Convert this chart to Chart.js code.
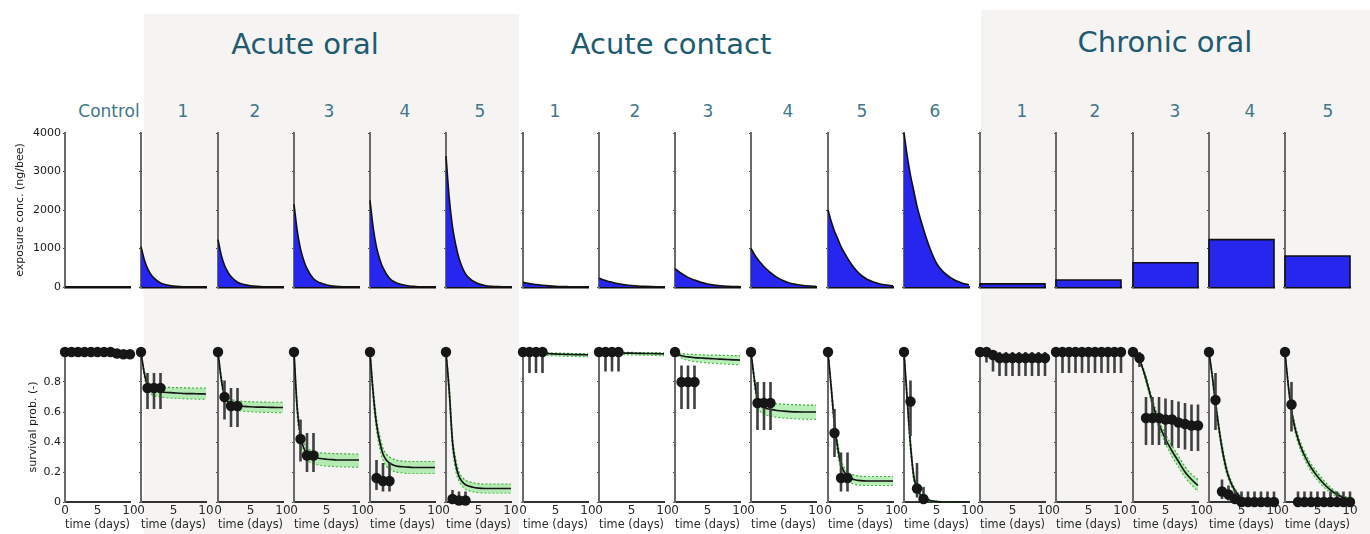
<!DOCTYPE html>
<html><head><meta charset="utf-8">
<script src="https://cdn.jsdelivr.net/npm/chart.js@4/dist/chart.umd.min.js"></script>
<style>
html,body{margin:0;padding:0;background:#fff;width:1370px;height:534px;overflow:hidden;position:relative;font-family:'DejaVu Sans',sans-serif}
.bg{position:absolute;background:#f5f4f2}
.grp{position:absolute;font-size:29px;line-height:1;color:#1f5b70;transform:translate(-50%,-50%);white-space:nowrap}
.lab{position:absolute;font-size:17px;line-height:1;color:#437688;transform:translate(-50%,-50%);white-space:nowrap}
canvas{position:absolute}
</style></head><body>
<div class="bg" style="left:144px;top:14px;width:375px;height:520px"></div>
<div class="bg" style="left:981px;top:10px;width:389px;height:524px"></div>
<script>
// ---------- DATA ----------
const groupTitles = ['Acute oral', 'Acute contact', 'Chronic oral'];
const panelLabels = ['Control','1','2','3','4','5','1','2','3','4','5','6','1','2','3','4','5'];

// exposure (top row)
const concTime = [0, 0.5, 1, 1.5, 2, 3, 4, 5, 6, 7, 8, 9, 10];
const exposureDays = [0, 10];
const concControl = [0, 0, 0, 0, 0, 0, 0, 0, 0, 0, 0, 0, 0];
const concOral1 = [1050, 715, 485, 335, 230, 105, 52, 26, 13, 6, 3, 2, 0];
const concOral2 = [1230, 835, 565, 395, 270, 123, 62, 31, 15, 7, 4, 2, 0];
const concOral3 = [2150, 1460, 990, 690, 475, 215, 108, 54, 26, 13, 6, 3, 0];
const concOral4 = [2250, 1530, 1035, 720, 495, 225, 113, 56, 27, 14, 7, 3, 0];
const concOral5 = [3400, 2310, 1565, 1090, 750, 340, 170, 85, 41, 20, 10, 5, 0];
const concContact1 = [120, 102, 87, 75, 63, 45, 30, 19, 12, 8, 5, 3, 2];
const concContact2 = [230, 196, 167, 144, 121, 86, 58, 37, 23, 15, 9, 6, 4];
const concContact3 = [480, 410, 350, 300, 250, 180, 120, 77, 48, 31, 19, 12, 7];
const concContact4 = [1000, 850, 725, 625, 525, 375, 250, 160, 100, 65, 40, 25, 15];
const concContact5 = [2000, 1700, 1450, 1250, 1050, 750, 500, 320, 200, 130, 80, 50, 30];
const concContact6 = [4000, 3400, 2900, 2500, 2100, 1500, 1000, 620, 400, 260, 160, 100, 60];
const chronicConc = [80, 180, 630, 1230, 805];
const concTicks = [0, 1000, 2000, 3000, 4000];

// survival (bottom row)
const obsTimeAcute = [0, 1, 2, 3];
const obsTimeLong = [0, 1, 2, 3, 4, 5, 6, 7, 8, 9, 10];
const modelTime = [0, 0.5, 1, 1.5, 2, 2.5, 3, 4, 5, 6, 7, 8, 9, 10];
const timeTicks = [0, 5, 10];

const survControl = [1, 1, 1, 1, 1, 1, 1, 1, 0.99, 0.985, 0.985];
const modelControl = [1, 1, 1, 1, 1, 1, 1, 0.999, 0.998, 0.996, 0.994, 0.992, 0.99, 0.988];

const survOral1 = [1, 0.76, 0.76, 0.76];
const errLoOral1 = [1, 0.62, 0.62, 0.62];
const errHiOral1 = [1, 0.86, 0.86, 0.86];
const modelOral1 = [1, 0.86, 0.78, 0.755, 0.745, 0.74, 0.735, 0.73, 0.728, 0.725, 0.723, 0.722, 0.721, 0.72];
const bandLoOral1 = [1, 0.84, 0.75, 0.72, 0.71, 0.705, 0.70, 0.695, 0.692, 0.69, 0.688, 0.687, 0.686, 0.685];
const bandHiOral1 = [1, 0.88, 0.81, 0.785, 0.775, 0.77, 0.768, 0.765, 0.763, 0.762, 0.761, 0.76, 0.76, 0.76];

const survOral2 = [1, 0.70, 0.64, 0.64];
const errLoOral2 = [1, 0.55, 0.50, 0.50];
const errHiOral2 = [1, 0.81, 0.76, 0.76];
const modelOral2 = [1, 0.82, 0.71, 0.67, 0.655, 0.648, 0.643, 0.638, 0.635, 0.633, 0.632, 0.631, 0.63, 0.63];
const bandLoOral2 = [1, 0.80, 0.68, 0.64, 0.625, 0.615, 0.61, 0.605, 0.602, 0.60, 0.598, 0.597, 0.596, 0.595];
const bandHiOral2 = [1, 0.84, 0.74, 0.70, 0.685, 0.678, 0.674, 0.67, 0.668, 0.667, 0.666, 0.665, 0.665, 0.665];

const survOral3 = [1, 0.42, 0.31, 0.31];
const errLoOral3 = [1, 0.27, 0.20, 0.20];
const errHiOral3 = [1, 0.55, 0.46, 0.46];
const modelOral3 = [1, 0.62, 0.44, 0.36, 0.325, 0.31, 0.30, 0.29, 0.285, 0.282, 0.28, 0.28, 0.28, 0.28];
const bandLoOral3 = [1, 0.58, 0.40, 0.32, 0.28, 0.265, 0.255, 0.245, 0.24, 0.237, 0.235, 0.234, 0.233, 0.232];
const bandHiOral3 = [1, 0.66, 0.48, 0.40, 0.36, 0.345, 0.335, 0.328, 0.325, 0.323, 0.322, 0.321, 0.32, 0.32];

const survOral4 = [1, 0.16, 0.14, 0.14];
const errLoOral4 = [1, 0.08, 0.07, 0.07];
const errHiOral4 = [1, 0.28, 0.26, 0.26];
const modelOral4 = [1, 0.72, 0.52, 0.40, 0.32, 0.28, 0.26, 0.24, 0.235, 0.232, 0.23, 0.23, 0.23, 0.23];
const bandLoOral4 = [1, 0.68, 0.48, 0.36, 0.28, 0.24, 0.22, 0.20, 0.195, 0.19, 0.19, 0.19, 0.19, 0.19];
const bandHiOral4 = [1, 0.76, 0.56, 0.44, 0.36, 0.32, 0.30, 0.28, 0.272, 0.27, 0.27, 0.27, 0.27, 0.27];

const survOral5 = [1, 0.02, 0.01, 0.01];
const errLoOral5 = [1, 0, 0, 0];
const errHiOral5 = [1, 0.08, 0.07, 0.07];
const modelOral5 = [1, 0.74, 0.40, 0.25, 0.17, 0.135, 0.115, 0.10, 0.092, 0.09, 0.09, 0.09, 0.09, 0.09];
const bandLoOral5 = [1, 0.70, 0.36, 0.21, 0.14, 0.105, 0.085, 0.07, 0.063, 0.06, 0.06, 0.06, 0.06, 0.06];
const bandHiOral5 = [1, 0.78, 0.44, 0.29, 0.20, 0.165, 0.145, 0.13, 0.122, 0.12, 0.12, 0.12, 0.12, 0.12];

const survContact1 = [1, 1, 1, 1];
const errLoContact1 = [1, 0.86, 0.86, 0.86];
const errHiContact1 = [1, 1, 1, 1];
const modelContact1 = [1, 0.998, 0.996, 0.994, 0.993, 0.992, 0.991, 0.989, 0.987, 0.985, 0.984, 0.983, 0.982, 0.981];
const bandLoContact1 = [1, 0.995, 0.99, 0.987, 0.985, 0.982, 0.98, 0.977, 0.975, 0.973, 0.971, 0.97, 0.969, 0.968];
const bandHiContact1 = [1, 1, 0.999, 0.998, 0.997, 0.996, 0.995, 0.994, 0.993, 0.992, 0.991, 0.99, 0.99, 0.99];

const survContact2 = [1, 1, 1, 1];
const errLoContact2 = [1, 0.87, 0.87, 0.87];
const errHiContact2 = [1, 1, 1, 1];
const modelContact2 = [1, 0.999, 0.998, 0.997, 0.996, 0.995, 0.994, 0.993, 0.992, 0.991, 0.99, 0.99, 0.989, 0.988];
const bandLoContact2 = [1, 0.996, 0.993, 0.99, 0.988, 0.986, 0.985, 0.983, 0.981, 0.98, 0.979, 0.978, 0.977, 0.976];
const bandHiContact2 = [1, 1, 1, 0.999, 0.999, 0.998, 0.998, 0.997, 0.997, 0.996, 0.996, 0.995, 0.995, 0.995];

const survContact3 = [1, 0.80, 0.80, 0.80];
const errLoContact3 = [1, 0.62, 0.62, 0.62];
const errHiContact3 = [1, 0.91, 0.91, 0.91];
const modelContact3 = [1, 0.985, 0.975, 0.97, 0.967, 0.965, 0.963, 0.96, 0.957, 0.955, 0.952, 0.95, 0.948, 0.946];
const bandLoContact3 = [1, 0.975, 0.96, 0.95, 0.945, 0.94, 0.937, 0.932, 0.928, 0.925, 0.922, 0.92, 0.917, 0.915];
const bandHiContact3 = [1, 0.995, 0.99, 0.987, 0.985, 0.984, 0.983, 0.981, 0.98, 0.979, 0.978, 0.977, 0.976, 0.975];

const survContact4 = [1, 0.66, 0.66, 0.66];
const errLoContact4 = [1, 0.48, 0.48, 0.48];
const errHiContact4 = [1, 0.80, 0.80, 0.80];
const modelContact4 = [1, 0.82, 0.68, 0.645, 0.63, 0.622, 0.617, 0.61, 0.606, 0.603, 0.601, 0.60, 0.60, 0.60];
const bandLoContact4 = [1, 0.79, 0.64, 0.60, 0.585, 0.577, 0.572, 0.565, 0.56, 0.557, 0.555, 0.553, 0.552, 0.551];
const bandHiContact4 = [1, 0.85, 0.72, 0.685, 0.672, 0.665, 0.66, 0.655, 0.652, 0.65, 0.648, 0.647, 0.646, 0.645];

const survContact5 = [1, 0.46, 0.16, 0.16];
const errLoContact5 = [1, 0.30, 0.07, 0.07];
const errHiContact5 = [1, 0.62, 0.33, 0.33];
const modelContact5 = [1, 0.76, 0.52, 0.36, 0.25, 0.20, 0.17, 0.15, 0.142, 0.14, 0.14, 0.14, 0.14, 0.14];
const bandLoContact5 = [1, 0.73, 0.48, 0.32, 0.22, 0.17, 0.14, 0.12, 0.112, 0.11, 0.11, 0.11, 0.11, 0.11];
const bandHiContact5 = [1, 0.79, 0.56, 0.40, 0.28, 0.23, 0.20, 0.18, 0.172, 0.17, 0.17, 0.17, 0.17, 0.17];

const survContact6 = [1, 0.67, 0.09, 0.02];
const errLoContact6 = [1, 0.44, 0.03, 0];
const errHiContact6 = [1, 0.81, 0.26, 0.10];
const modelContact6 = [1, 0.68, 0.38, 0.17, 0.09, 0.05, 0.03, 0.01, 0.003, 0, 0, 0, 0, 0];
const bandLoContact6 = [1, 0.64, 0.34, 0.14, 0.07, 0.035, 0.02, 0.005, 0, 0, 0, 0, 0, 0];
const bandHiContact6 = [1, 0.72, 0.42, 0.20, 0.11, 0.065, 0.04, 0.015, 0.006, 0.002, 0, 0, 0, 0];

const survChronic1 = [1, 1, 0.98, 0.96, 0.96, 0.96, 0.96, 0.96, 0.96, 0.96, 0.96];
const errLoChronic1 = [1, 0.93, 0.87, 0.84, 0.84, 0.84, 0.84, 0.84, 0.84, 0.84, 0.84];
const errHiChronic1 = [1, 1, 1, 1, 1, 1, 1, 1, 1, 1, 1];
const modelChronic1 = [1, 0.995, 0.985, 0.978, 0.972, 0.968, 0.965, 0.962, 0.96, 0.958, 0.957, 0.956, 0.955, 0.954];
const bandLoChronic1 = [1, 0.99, 0.975, 0.966, 0.959, 0.954, 0.95, 0.946, 0.943, 0.94, 0.938, 0.936, 0.935, 0.934];
const bandHiChronic1 = [1, 1, 0.995, 0.99, 0.985, 0.982, 0.98, 0.978, 0.977, 0.976, 0.975, 0.975, 0.974, 0.974];

const survChronic2 = [1, 1, 1, 1, 1, 1, 1, 1, 1, 1, 1];
const errLoChronic2 = [1, 0.86, 0.86, 0.86, 0.86, 0.86, 0.86, 0.86, 0.86, 0.86, 0.86];
const errHiChronic2 = [1, 1, 1, 1, 1, 1, 1, 1, 1, 1, 1];
const modelChronic2 = [1, 1, 1, 1, 0.999, 0.999, 0.999, 0.999, 0.998, 0.998, 0.998, 0.998, 0.998, 0.997];
const bandLoChronic2 = [1, 1, 0.999, 0.998, 0.997, 0.996, 0.995, 0.994, 0.993, 0.992, 0.991, 0.99, 0.99, 0.99];
const bandHiChronic2 = [1, 1, 1, 1, 1, 1, 1, 1, 1, 1, 1, 1, 1, 1];

const survChronic3 = [1, 0.96, 0.56, 0.56, 0.56, 0.55, 0.55, 0.53, 0.52, 0.51, 0.51];
const errLoChronic3 = [1, 0.90, 0.38, 0.38, 0.38, 0.38, 0.37, 0.36, 0.35, 0.34, 0.34];
const errHiChronic3 = [1, 1, 0.70, 0.70, 0.70, 0.69, 0.68, 0.67, 0.66, 0.65, 0.65];
const modelChronic3 = [1, 0.985, 0.95, 0.89, 0.82, 0.74, 0.66, 0.52, 0.42, 0.34, 0.27, 0.20, 0.15, 0.11];
const bandLoChronic3 = [1, 0.98, 0.94, 0.875, 0.80, 0.72, 0.635, 0.49, 0.39, 0.305, 0.235, 0.165, 0.115, 0.07];
const bandHiChronic3 = [1, 0.99, 0.96, 0.905, 0.84, 0.76, 0.685, 0.55, 0.45, 0.375, 0.305, 0.235, 0.185, 0.15];

const survChronic4 = [1, 0.68, 0.07, 0.05, 0.02, 0, 0, 0, 0, 0, 0];
const errLoChronic4 = [1, 0.48, 0.02, 0.01, 0, 0, 0, 0, 0, 0, 0];
const errHiChronic4 = [1, 0.86, 0.15, 0.11, 0.08, 0.07, 0.07, 0.07, 0.07, 0.07, 0.07];
const modelChronic4 = [1, 0.84, 0.66, 0.50, 0.36, 0.25, 0.17, 0.075, 0.03, 0.012, 0.005, 0.002, 0, 0];
const bandLoChronic4 = [1, 0.82, 0.63, 0.47, 0.33, 0.225, 0.15, 0.06, 0.02, 0.006, 0.002, 0, 0, 0];
const bandHiChronic4 = [1, 0.86, 0.69, 0.53, 0.39, 0.275, 0.19, 0.09, 0.04, 0.018, 0.008, 0.004, 0.002, 0.001];

const survChronic5 = [1, 0.65, 0, 0, 0, 0, 0, 0, 0, 0, 0];
const errLoChronic5 = [1, 0.47, 0, 0, 0, 0, 0, 0, 0, 0, 0];
const errHiChronic5 = [1, 0.80, 0.07, 0.07, 0.07, 0.07, 0.07, 0.07, 0.07, 0.07, 0.07];
const modelChronic5 = [1, 0.78, 0.61, 0.50, 0.42, 0.36, 0.31, 0.23, 0.17, 0.12, 0.08, 0.05, 0.03, 0.015];
const bandLoChronic5 = [1, 0.76, 0.585, 0.475, 0.395, 0.335, 0.285, 0.205, 0.145, 0.098, 0.062, 0.036, 0.019, 0.008];
const bandHiChronic5 = [1, 0.80, 0.635, 0.525, 0.445, 0.385, 0.335, 0.255, 0.195, 0.142, 0.098, 0.064, 0.041, 0.024];

// ---------- PANEL TABLE (built from the arrays) ----------
const P = (conc, chronic, obsT, obs, lo, hi, model, bLo, bHi) => ({conc, chronic, obsT, obs, lo, hi, model, bLo, bHi});
const panels = [
  P(concControl, null, obsTimeLong, survControl, null, null, modelControl, null, null),
  P(concOral1, null, obsTimeAcute, survOral1, errLoOral1, errHiOral1, modelOral1, bandLoOral1, bandHiOral1),
  P(concOral2, null, obsTimeAcute, survOral2, errLoOral2, errHiOral2, modelOral2, bandLoOral2, bandHiOral2),
  P(concOral3, null, obsTimeAcute, survOral3, errLoOral3, errHiOral3, modelOral3, bandLoOral3, bandHiOral3),
  P(concOral4, null, obsTimeAcute, survOral4, errLoOral4, errHiOral4, modelOral4, bandLoOral4, bandHiOral4),
  P(concOral5, null, obsTimeAcute, survOral5, errLoOral5, errHiOral5, modelOral5, bandLoOral5, bandHiOral5),
  P(concContact1, null, obsTimeAcute, survContact1, errLoContact1, errHiContact1, modelContact1, bandLoContact1, bandHiContact1),
  P(concContact2, null, obsTimeAcute, survContact2, errLoContact2, errHiContact2, modelContact2, bandLoContact2, bandHiContact2),
  P(concContact3, null, obsTimeAcute, survContact3, errLoContact3, errHiContact3, modelContact3, bandLoContact3, bandHiContact3),
  P(concContact4, null, obsTimeAcute, survContact4, errLoContact4, errHiContact4, modelContact4, bandLoContact4, bandHiContact4),
  P(concContact5, null, obsTimeAcute, survContact5, errLoContact5, errHiContact5, modelContact5, bandLoContact5, bandHiContact5),
  P(concContact6, null, obsTimeAcute, survContact6, errLoContact6, errHiContact6, modelContact6, bandLoContact6, bandHiContact6),
  P(null, chronicConc[0], obsTimeLong, survChronic1, errLoChronic1, errHiChronic1, modelChronic1, bandLoChronic1, bandHiChronic1),
  P(null, chronicConc[1], obsTimeLong, survChronic2, errLoChronic2, errHiChronic2, modelChronic2, bandLoChronic2, bandHiChronic2),
  P(null, chronicConc[2], obsTimeLong, survChronic3, errLoChronic3, errHiChronic3, modelChronic3, bandLoChronic3, bandHiChronic3),
  P(null, chronicConc[3], obsTimeLong, survChronic4, errLoChronic4, errHiChronic4, modelChronic4, bandLoChronic4, bandHiChronic4),
  P(null, chronicConc[4], obsTimeLong, survChronic5, errLoChronic5, errHiChronic5, modelChronic5, bandLoChronic5, bandHiChronic5)
];

// ---------- LAYOUT ----------
const FONT = "'DejaVu Sans', sans-serif";
const groupCenters = [[305, 44], [671, 44], [1165, 42]];
const labelCenters = [109, 183, 255, 329, 405, 480, 555, 635, 708, 788, 862, 935, 1022, 1095, 1175, 1250, 1328];
const PLOT_W = 65, R_PAD = 14;
const axisX = c => Math.round(65 + c * 76.25);

groupTitles.forEach((t, i) => {
  const d = document.createElement('div'); d.className = 'grp'; d.textContent = t;
  d.style.left = groupCenters[i][0] + 'px'; d.style.top = groupCenters[i][1] + 'px';
  document.body.appendChild(d);
});
panelLabels.forEach((t, i) => {
  const d = document.createElement('div'); d.className = 'lab'; d.textContent = t;
  d.style.left = labelCenters[i] + 'px'; d.style.top = '111px';
  document.body.appendChild(d);
});

function makeCanvas(left, top, w, h) {
  const c = document.createElement('canvas');
  c.width = w; c.height = h;
  c.style.left = left + 'px'; c.style.top = top + 'px';
  c.style.width = w + 'px'; c.style.height = h + 'px';
  document.body.appendChild(c);
  return c;
}

const baseOpts = (L, padTop, padBottom) => ({
  responsive: false, animation: false, devicePixelRatio: 1, events: [],
  layout: {padding: {top: padTop, right: R_PAD, bottom: padBottom, left: 0}},
  plugins: {legend: {display: false}, tooltip: {enabled: false}}
});

const BLUE = 'rgb(38,38,238)';

panels.forEach((p, c) => {
  const L = c === 0 ? 65 : 24;
  const left = axisX(c) - L;
  const W = L + PLOT_W + R_PAD;

  // ---- top row: exposure ----
  let expData;
  if (p.conc) {
    expData = concTime.map((t, i) => ({x: t, y: p.conc[i]}));
  } else {
    const v = p.chronic;
    expData = [{x: exposureDays[0], y: 0}, {x: exposureDays[0], y: v}, {x: exposureDays[1], y: v}, {x: exposureDays[1], y: 0}];
  }
  const topCfg = {
    type: 'line',
    data: {datasets: [{
      data: expData, borderColor: '#111', borderWidth: 1.6, pointRadius: 0,
      backgroundColor: BLUE, fill: p.conc === concControl ? false : 'origin',
      cubicInterpolationMode: p.conc ? 'monotone' : 'default', tension: 0, clip: false
    }]},
    options: Object.assign(baseOpts(L, 8, 4), {
      scales: {
        x: {type: 'linear', min: 0, max: 10,
            ticks: {display: false, stepSize: 5},
            grid: {display: true, drawOnChartArea: false, drawTicks: false},
            border: {display: true, color: '#111', width: 2.5},
            afterFit: s => { s.height = 2; s.paddingLeft = 0; s.paddingRight = 0; }},
        y: {type: 'linear', min: 0, max: 4000,
            afterBuildTicks: s => { s.ticks = concTicks.map(v => ({value: v})); },
            ticks: {display: c === 0, font: {family: FONT, size: 11}, color: '#1a1a1a', padding: 2, callback: v => String(v)},
            grid: {display: true, drawOnChartArea: false, drawTicks: true, tickLength: 2, color: '#444'},
            border: {display: true, color: '#6a6a6a', width: 2},
            title: {display: c === 0, text: 'exposure conc. (ng/bee)', font: {family: FONT, size: 11}, color: '#1a1a1a', padding: {top: 14, bottom: 0}},
            afterFit: s => { s.width = L; s.paddingTop = 0; s.paddingBottom = 0; }}
      }
    })
  };
  new Chart(makeCanvas(left, 133 - 8, W, 8 + 154 + 2 + 4), topCfg);

  // ---- bottom row: survival ----
  const obsPts = p.obsT.map((t, i) => ({x: t, y: p.obs[i]}));
  const errPts = [];
  if (p.lo) {
    p.obsT.forEach((t, i) => {
      if (p.hi[i] > p.lo[i]) {
        errPts.push({x: t, y: p.lo[i]}, {x: t, y: p.hi[i]}, {x: t, y: null});
      }
    });
  }
  const modelPts = modelTime.map((t, i) => ({x: t, y: p.model[i]}));
  const datasets = [
    {data: obsPts, showLine: false, pointRadius: 5.2, pointBackgroundColor: '#161616', pointBorderColor: '#161616', pointBorderWidth: 0, clip: false},
    {data: errPts, borderColor: '#404040', borderWidth: 2.6, pointRadius: 0, spanGaps: false, fill: false, clip: false},
    {data: modelPts, borderColor: '#151515', borderWidth: 1.7, pointRadius: 0, fill: false, cubicInterpolationMode: 'monotone', clip: false}
  ];
  if (p.bLo) {
    datasets.push(
      {data: modelTime.map((t, i) => ({x: t, y: p.bHi[i]})), borderColor: '#3aa83a', borderWidth: 1.2, borderDash: [2, 2], pointRadius: 0,
       fill: '+1', backgroundColor: 'rgba(130,225,130,0.55)', cubicInterpolationMode: 'monotone', clip: false},
      {data: modelTime.map((t, i) => ({x: t, y: p.bLo[i]})), borderColor: '#3aa83a', borderWidth: 1.2, borderDash: [2, 2], pointRadius: 0,
       fill: false, cubicInterpolationMode: 'monotone', clip: false}
    );
  }
  const botCfg = {
    type: 'line',
    data: {datasets},
    options: Object.assign(baseOpts(L, 10, 2), {
      scales: {
        x: {type: 'linear', min: 0, max: 10,
            afterBuildTicks: s => { s.ticks = timeTicks.map(v => ({value: v})); },
            ticks: {display: true, font: {family: FONT, size: 12}, color: '#2a2a2a', padding: 2, maxRotation: 0, autoSkip: false, callback: v => String(v)},
            grid: {display: true, drawOnChartArea: false, drawTicks: false},
            border: {display: true, color: '#333', width: 2},
            title: {display: true, text: 'time (days)', font: {family: FONT, size: 13}, color: '#2a2a2a', padding: {top: 0, bottom: 0}},
            afterFit: s => { s.height = 30; s.paddingLeft = 0; s.paddingRight = 0; }},
        y: {type: 'linear', min: 0, max: 1,
            ticks: {display: c === 0, stepSize: 0.2, font: {family: FONT, size: 11}, color: '#1a1a1a', padding: 2,
                    callback: v => (v >= 0.999 ? '' : String(+v.toFixed(1)))},
            grid: {display: true, drawOnChartArea: false, drawTicks: true, tickLength: 2, color: '#444'},
            border: {display: true, color: '#6a6a6a', width: 2},
            title: {display: c === 0, text: 'survival prob. (-)', font: {family: FONT, size: 11}, color: '#1a1a1a', padding: {top: 27, bottom: 0}},
            afterFit: s => { s.width = L; s.paddingTop = 0; s.paddingBottom = 0; }}
      }
    })
  };
  new Chart(makeCanvas(left, 352 - 10, W, 10 + 151 + 30 + 1), botCfg);
});
</script>
</body></html>
